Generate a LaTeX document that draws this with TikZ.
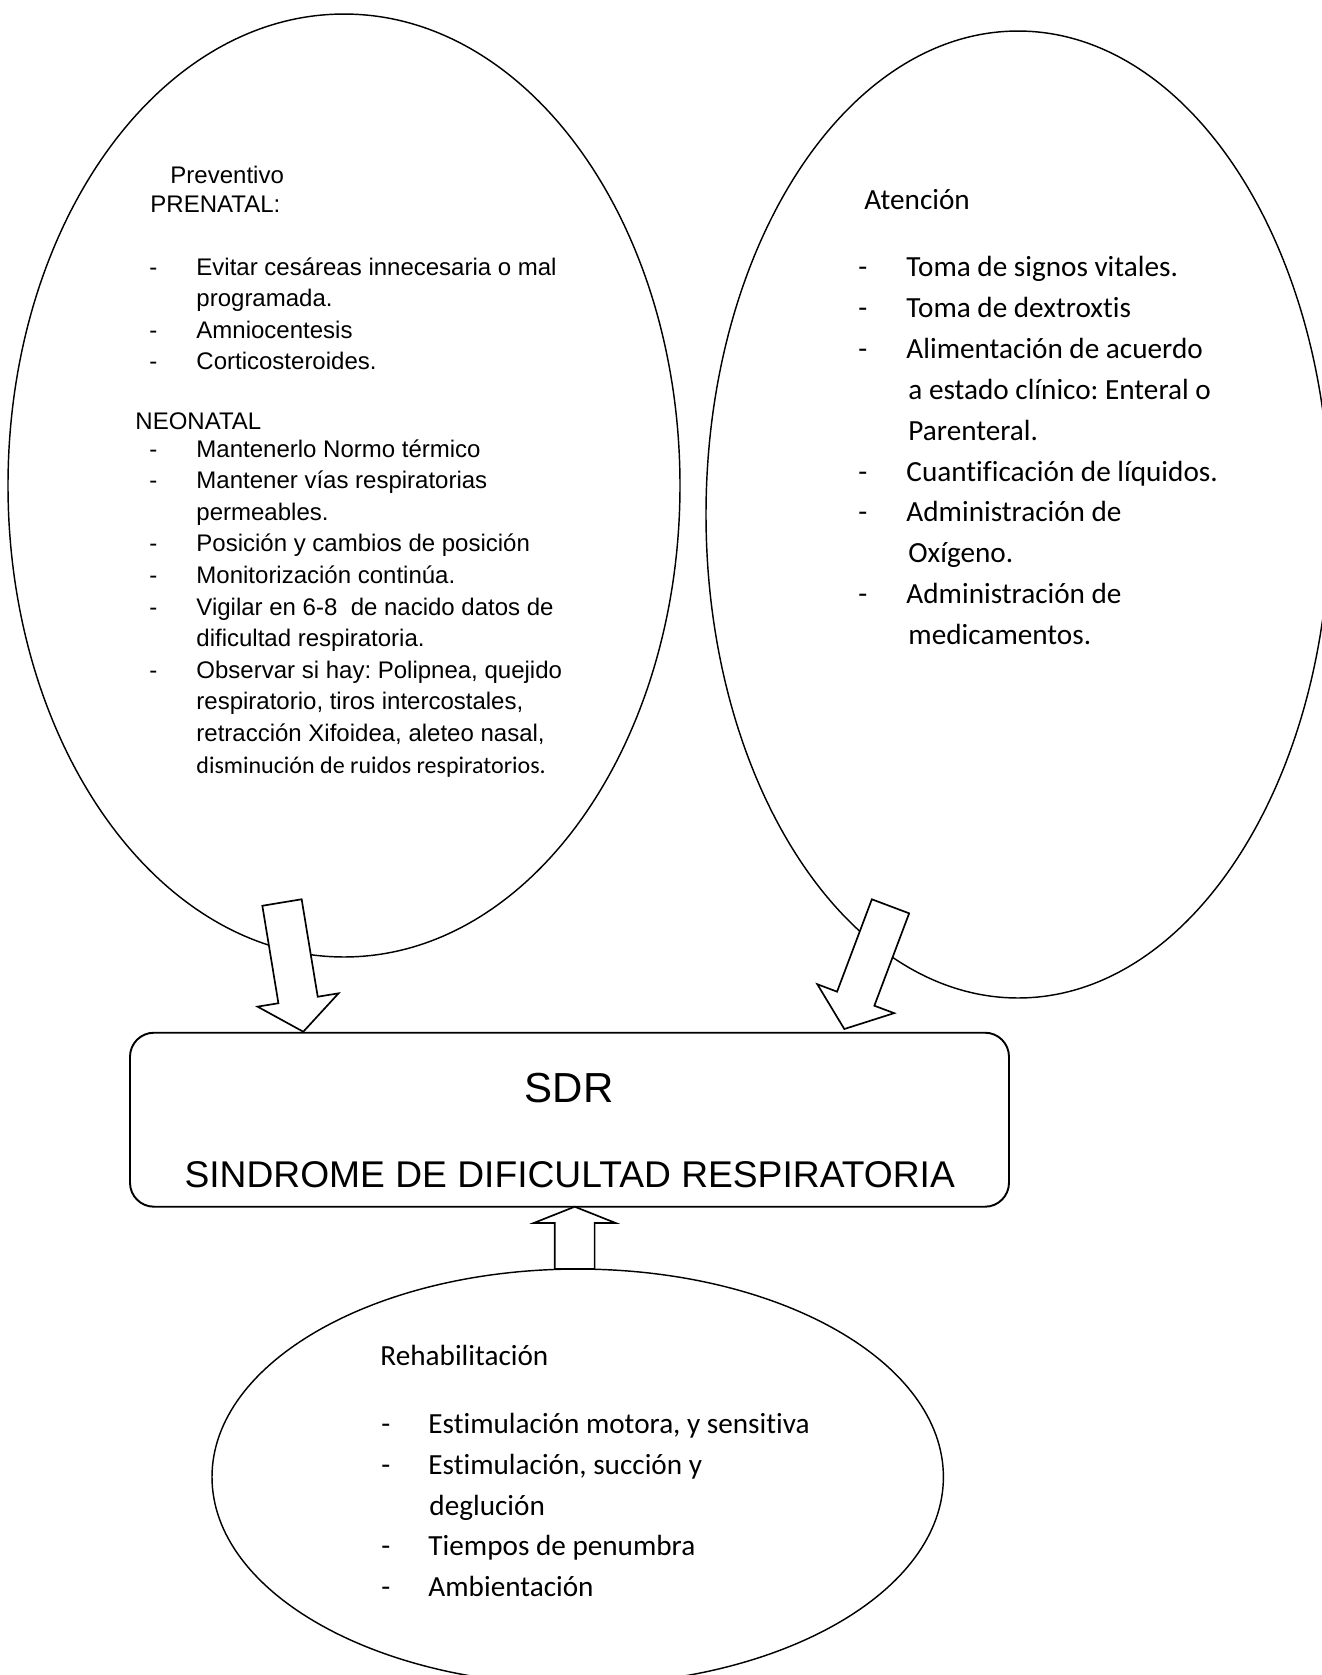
\documentclass[tikz,border=0pt]{standalone}
\usepackage{fontspec}
\newfontfamily\arial[Ligatures=NoCommon]{Liberation Sans}
\newfontfamily\calib[Ligatures=NoCommon]{Carlito}
\usetikzlibrary{shapes.geometric,calc}
\frenchspacing
\tikzset{
  arl/.style={anchor=base west, inner sep=0pt, font=\arial\frenchspacing\fontsize{10}{12}\selectfont},
  cal/.style={anchor=base west, inner sep=0pt, font=\calib\frenchspacing\fontsize{12.17}{14}\selectfont},
  cals/.style={anchor=base west, inner sep=0pt, font=\calib\frenchspacing\fontsize{10}{12}\selectfont},
  bubble/.style={ellipse, draw, line width=0.6pt, inner sep=0pt, outer sep=0pt},
  mainbox/.style={draw, rounded corners=10pt, line width=0.8pt, inner sep=0pt, outer sep=0pt},
  barrow/.style={draw, fill=white, line width=0.7pt, line join=miter},
}
\newcommand\blockarr[4]{%
  \coordinate (#1base) at ($(#3)!#4!(#2)$);
  \draw[barrow] ($(#2)!8.3pt!90:(#3)$) -- ($(#1base)!8.3pt!90:(#3)$) -- ($(#1base)!17.1pt!90:(#3)$) -- (#3)
     -- ($(#1base)!17.1pt!-90:(#3)$) -- ($(#1base)!8.3pt!-90:(#3)$) -- ($(#2)!8.3pt!-90:(#3)$) -- cycle;}
\begin{document}
\begin{tikzpicture}[x=0.41667pt,y=-0.41667pt]
\useasboundingbox (0,0) rectangle (1322,1675);
\fill[white] (0,0) rectangle (1322,1675);
\clip (0,0) rectangle (1322,1675);

% bubbles
\node[bubble, minimum width=280pt, minimum height=392.9pt] (prev) at (344,485.5) {};
\node[bubble, minimum width=260pt, minimum height=402.9pt] (aten) at (1018,514.5) {};
\node[bubble, minimum width=304.75pt, minimum height=173.3pt] (rehab) at (577.7,1477) {};

% central box
\node[mainbox, minimum width=366.25pt, minimum height=72.5pt] (sdrbox) at (569.5,1119.7) {};
\node[anchor=base, inner sep=0pt, font=\arial\fontsize{17.5}{20}\selectfont] (sdr) at (569,1102) {SDR};
\node[anchor=base, inner sep=0pt, font=\arial\fontsize{15.5}{18}\selectfont] (sdrlong) at (569.7,1187) {SINDROME DE DIFICULTAD RESPIRATORIA};

% block arrows
\coordinate (t1) at (282,902.5);  \coordinate (p1) at (303.3,1031.7);
\coordinate (t2) at (890.5,906.3); \coordinate (p2) at (844.3,1029);
\coordinate (t3) at (574.7,1269); \coordinate (p3) at (574.7,1206.7);
\blockarr{a1}{t1}{p1}{13.4pt}
\blockarr{a2}{t2}{p2}{13.5pt}
\blockarr{a3}{t3}{p3}{6.8pt}

% left bubble text
\node[arl] (l1) at (170,183) {Preventivo};
\node[arl] (l2) at (150,212.5) {PRENATAL:};
\node[arl] (d1) at (149,275) {-};
\node[arl] (l3) at (196,275) {Evitar cesáreas innecesaria o mal};
\node[arl] (l4) at (196,306.6) {programada.};
\node[arl] (d2) at (149,338.2) {-};
\node[arl] (l5) at (196,338.2) {Amniocentesis};
\node[arl] (d3) at (149,369.8) {-};
\node[arl] (l6) at (196,369.8) {Corticosteroides.};
\node[arl] (l7) at (135,429) {NEONATAL};
\node[arl] (d4) at (149,457) {-};
\node[arl] (l8) at (196,457) {Mantenerlo Normo térmico};
\node[arl] (d5) at (149,488.6) {-};
\node[arl] (l9) at (196,488.6) {Mantener vías respiratorias};
\node[arl] (l10) at (196,520.2) {permeables.};
\node[arl] (d6) at (149,551.8) {-};
\node[arl] (l11) at (196,551.8) {Posición y cambios de posición};
\node[arl] (d7) at (149,583.4) {-};
\node[arl] (l12) at (196,583.4) {Monitorización continúa.};
\node[arl] (d8) at (149,615) {-};
\node[arl] (l13) at (196,615) {Vigilar en 6-8 \ de nacido datos de};
\node[arl] (l14) at (196,646.6) {dificultad respiratoria.};
\node[arl] (d9) at (149,678.2) {-};
\node[arl] (l15) at (196,678.2) {Observar si hay: Polipnea, quejido};
\node[arl] (l16) at (196,709.8) {respiratorio, tiros intercostales,};
\node[arl] (l17) at (196,741.4) {retracción Xifoidea, aleteo nasal,};
\node[cals] (l18) at (196,773) {disminución de ruidos respiratorios.};

% right bubble text
\node[cal] (r0) at (864,209) {Atención};
\node[cal] (e1) at (858,276.5) {-};
\node[cal] (r1) at (906,276.5) {Toma de signos vitales.};
\node[cal] (e2) at (858,317.4) {-};
\node[cal] (r2) at (906,317.4) {Toma de dextroxtis};
\node[cal] (e3) at (858,358.3) {-};
\node[cal] (r3) at (906,358.3) {Alimentación de acuerdo};
\node[cal] (r4) at (908,399.2) {a estado clínico: Enteral o};
\node[cal] (r5) at (908,440.1) {Parenteral.};
\node[cal] (e4) at (858,481) {-};
\node[cal] (r6) at (906,481) {Cuantificación de líquidos.};
\node[cal] (e5) at (858,521.9) {-};
\node[cal] (r7) at (906,521.9) {Administración de};
\node[cal] (r8) at (908,562.8) {Oxígeno.};
\node[cal] (e6) at (858,603.7) {-};
\node[cal] (r9) at (906,603.7) {Administración de};
\node[cal] (r10) at (908,644.6) {medicamentos.};

% bottom bubble text
\node[cal] (b0) at (380,1365) {Rehabilitación};
\node[cal] (f1) at (381,1433.5) {-};
\node[cal] (b1) at (428,1433.5) {Estimulación motora, y sensitiva};
\node[cal] (f2) at (381,1474.3) {-};
\node[cal] (b2) at (428,1474.3) {Estimulación, succión y};
\node[cal] (b3) at (429,1515.1) {deglución};
\node[cal] (f3) at (381,1555.9) {-};
\node[cal] (b4) at (428,1555.9) {Tiempos de penumbra};
\node[cal] (f4) at (381,1596.7) {-};
\node[cal] (b5) at (428,1596.7) {Ambientación};
\end{tikzpicture}
\end{document}
